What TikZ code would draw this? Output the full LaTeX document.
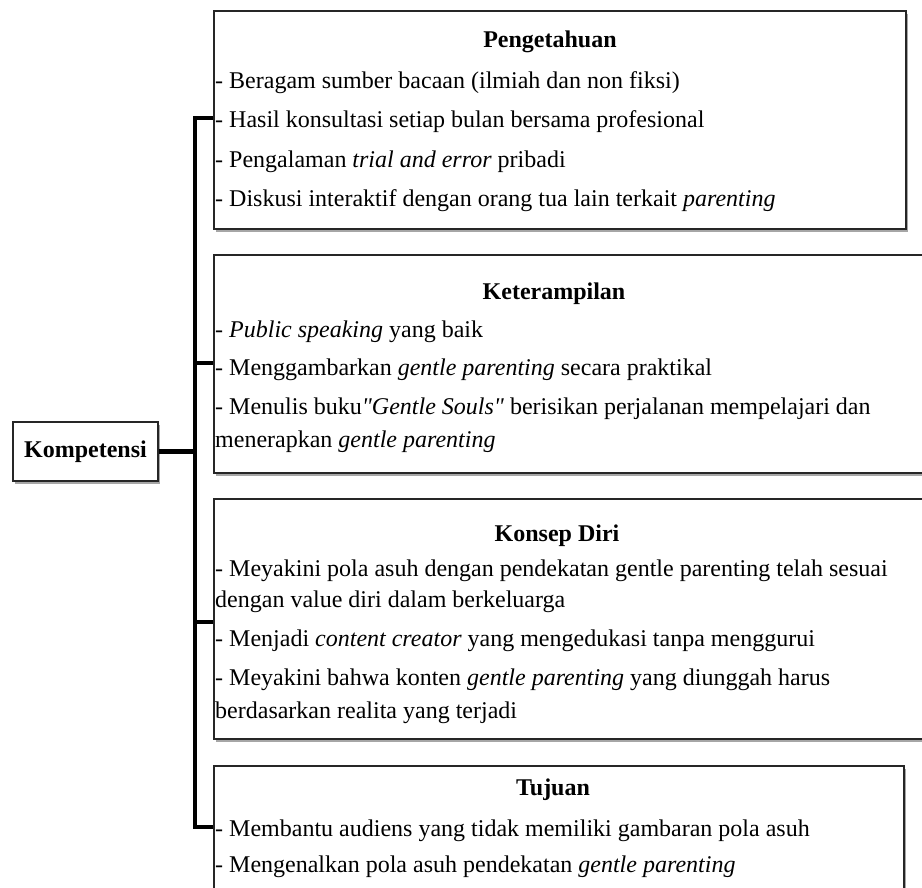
\documentclass[tikz,border=0pt]{standalone}
\usepackage{fontspec}
\setmainfont{Liberation Serif}[Ligatures=TeXOff]
\usetikzlibrary{shadows}
\begin{document}
\begin{tikzpicture}[x=1pt,y=-1pt,
  box/.style={draw=black!85,line width=2pt,fill=white,inner sep=0pt,anchor=north west,
    drop shadow={shadow xshift=2pt,shadow yshift=-3pt,opacity=0.35,fill=black}},
  txt/.style={anchor=base west,inner sep=0pt,font=\fontsize{24}{28}\selectfont},
  ttl/.style={anchor=base,inner sep=0pt,font=\fontsize{24}{28}\selectfont\bfseries},
  bracket/.style={line width=4.5pt,black}]
\useasboundingbox (0,0) rectangle (922,888);
\begin{scope}
\clip (0,0) rectangle (922,888);
% boxes
\node[box,minimum width=692pt,minimum height=218pt] (b1) at (213,10) {};
\node[box,minimum width=720pt,minimum height=218pt] (b2) at (213,254) {};
\node[box,minimum width=720pt,minimum height=240pt] (b3) at (213,498) {};
\node[box,minimum width=690pt,minimum height=140pt] (b4) at (213,765) {};
\node[box,minimum width=145pt,minimum height=59pt] (komp) at (12,421) {};
\node[font=\fontsize{24}{28}\selectfont\bfseries,inner sep=0pt] (kt) at (komp.center) {Kompetensi};
% bracket
\coordinate (s1) at (195,118);
\coordinate (s2) at (195,363);
\coordinate (s3) at (195,622);
\coordinate (s4) at (195,827);
\draw[bracket] (b1.west |- s1) -- (s1) -- (s4) -- (b4.west |- s4);
\draw[bracket] (s2) -- (b2.west |- s2);
\draw[bracket] (s3) -- (b3.west |- s3);
\draw[bracket] (komp.east) -- (komp.east -| s1);
% box 1
\node[ttl] (t1) at (550,48) {Pengetahuan};
\node[txt] (l11) at (215,89) {- Beragam sumber bacaan (ilmiah dan non fiksi)};
\node[txt] (l12) at (215,128) {- Hasil konsultasi setiap bulan bersama profesional};
\node[txt] (l13) at (215,168) {- Pengalaman \textit{trial and error} pribadi};
\node[txt] (l14) at (215,207) {- Diskusi interaktif dengan orang tua lain terkait \textit{parenting}};
% box 2
\node[ttl] (t2) at (554,299) {Keterampilan};
\node[txt] (l21) at (215,337) {- \textit{Public speaking} yang baik};
\node[txt] (l22) at (215,375) {- Menggambarkan \textit{gentle parenting} secara praktikal};
\node[txt] (l23) at (215,414) {- Menulis buku\textit{"Gentle Souls"} berisikan perjalanan mempelajari dan};
\node[txt] (l24) at (215,447) {menerapkan \textit{gentle parenting}};
% box 3
\node[ttl] (t3) at (557,541) {Konsep Diri};
\node[txt] (l31) at (215,576) {- Meyakini pola asuh dengan pendekatan gentle parenting telah sesuai};
\node[txt] (l32) at (215,607) {dengan value diri dalam berkeluarga};
\node[txt] (l33) at (215,646) {- Menjadi \textit{content creator} yang mengedukasi tanpa menggurui};
\node[txt] (l34) at (215,685) {- Meyakini bahwa konten \textit{gentle parenting} yang diunggah harus};
\node[txt] (l35) at (215,718) {berdasarkan realita yang terjadi};
% box 4
\node[ttl] (t4) at (553,795) {Tujuan};
\node[txt] (l41) at (215,836) {- Membantu audiens yang tidak memiliki gambaran pola asuh};
\node[txt] (l42) at (215,872) {- Mengenalkan pola asuh pendekatan \textit{gentle parenting}};
\end{scope}
\end{tikzpicture}
\end{document}
